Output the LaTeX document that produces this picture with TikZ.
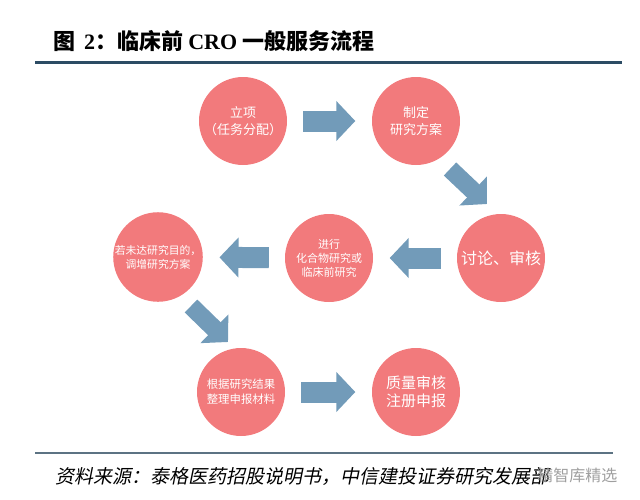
\documentclass[tikz,border=0pt]{standalone}
\usepackage{fontspec}
\newfontfamily\cjk{Noto Sans CJK SC}
\newfontfamily\cjkslant[FakeSlant=0.2]{Noto Sans CJK SC}
\newfontfamily\tnr{Liberation Serif}
\usetikzlibrary{arrows.meta,calc}
\definecolor{flowred}{RGB}{242,122,124}
\definecolor{flowblue}{RGB}{114,155,185}
\definecolor{rulenavy}{RGB}{44,76,100}
\definecolor{rulegray}{RGB}{92,115,131}

\begin{document}
\begin{tikzpicture}[x=1pt,y=-1pt,line join=bevel,
  stage/.style={circle,fill=flowred,draw=none,minimum size=88pt,inner sep=0pt,align=center,text=white},
  blockarrow/.style={draw=flowblue,line width=21pt,-{Triangle[length=19pt 0 0,width=39pt 0 0]},shorten <=16pt,shorten >=16.5pt},
]
\useasboundingbox (0,0) rectangle (640,499);
%%
\node (title) at (50,41) [anchor=west,font=\fontsize{22}{26}\selectfont\cjk\bfseries] {图\ \,{\tnr\bfseries 2}：临床前 {\tnr\bfseries CRO} 一般服务流程};
  \draw [rulenavy,line width=3pt] (35,62) -- (622,62);
  \draw [rulegray,line width=1.5pt] (35,453) -- (613,453);
  \node (source) at (52,476) [anchor=west,font=\fontsize{19}{22}\selectfont\cjkslant] {资料来源：泰格医药招股说明书，中信建投证券研究发展部};
  \node (mark) at (621,475) [anchor=east,text=gray!75,font=\fontsize{16}{18}\selectfont\cjk] {精智库精选};
%%
\node (node_1) at (243,121) [stage,font=\fontsize{13}{17}\selectfont\cjk] {立项\\（任务分配）};
  \node (node_2) at (416,121) [stage,font=\fontsize{13}{17}\selectfont\cjk] {制定\\研究方案};
  \node (node_3) at (501,258) [stage,font=\fontsize{16}{19}\selectfont\cjk] {讨论、审核};
  \node (node_4) at (329,258) [stage,font=\fontsize{11}{14}\selectfont\cjk] {进行\\化合物研究或\\临床前研究};
  \node (node_5) at (158,257) [stage,font=\fontsize{10.8}{14}\selectfont\cjk] {若未达研究目的，\\调增研究方案};
  \node (node_6) at (241,392) [stage,font=\fontsize{11.4}{15}\selectfont\cjk] {根据研究结果\\整理申报材料};
  \node (node_7) at (416,392) [stage,font=\fontsize{15}{18}\selectfont\cjk] {质量审核\\注册申报};
  \draw [blockarrow] (node_1) -- (node_2);
  \draw [blockarrow,line width=18pt,shorten <=0pt,shorten >=0pt] ($(node_2)+(34,48)$) -- ($(node_3)+(-14,-54)$);
  \draw [blockarrow] (node_3) -- (node_4);
  \draw [blockarrow] (node_4) -- (node_5);
  \draw [blockarrow,line width=18pt,shorten <=0pt,shorten >=0pt] ($(node_5)+(33,49)$) -- ($(node_6)+(-13,-50)$);
  \draw [blockarrow] (node_6) -- (node_7);
%
\end{tikzpicture}
\end{document}
